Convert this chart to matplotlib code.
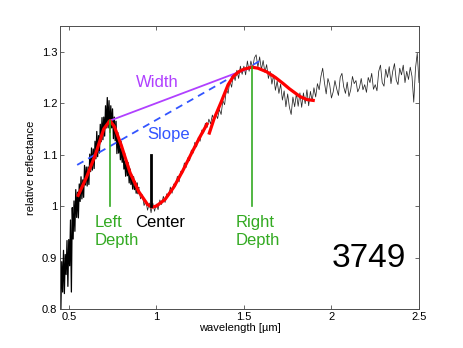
import numpy as np
import matplotlib
matplotlib.use("Agg")
import matplotlib.pyplot as plt
from matplotlib.ticker import FormatStrFormatter

plt.rcParams['font.family'] = ['Liberation Sans', 'DejaVu Sans']

# visible spectrum, 0.450 - 0.900 um, step 0.005
vis_wl = np.round(np.linspace(0.45, 0.90, 91), 3)
vis_refl = [
    0.855, 0.800, 0.892, 0.833, 0.914, 0.830, 0.906, 0.867, 0.933, 0.844,
    0.935, 0.884, 0.973, 0.833, 0.997, 0.936, 1.010, 0.951, 1.032, 0.978,
    1.027, 0.977, 1.043, 1.009, 1.057, 1.014, 1.051, 1.017, 1.079, 1.041,
    1.076, 1.039, 1.076, 1.042, 1.101, 1.067, 1.113, 1.070, 1.111, 1.073,
    1.126, 1.092, 1.145, 1.096, 1.137, 1.103, 1.159, 1.125, 1.172, 1.129,
    1.173, 1.136, 1.195, 1.152, 1.211, 1.152, 1.205, 1.143, 1.195, 1.152,
    1.189, 1.131, 1.173, 1.127, 1.165, 1.102, 1.143, 1.103, 1.128, 1.090,
    1.113, 1.085, 1.107, 1.072, 1.088, 1.058, 1.089, 1.059, 1.077, 1.045,
    1.072, 1.042, 1.060, 1.033, 1.057, 1.032, 1.048, 1.025, 1.045, 1.024,
    1.036,
]

# near-infrared spectrum, 0.80 - 2.50 um, step 0.01
nir_wl = np.round(np.linspace(0.80, 2.50, 171), 2)
nir_refl = [
    1.126, 1.098, 1.103, 1.083, 1.085, 1.058, 1.061, 1.039, 1.046, 1.027,
    1.032, 1.014, 1.022, 1.001, 1.010, 0.992, 1.006, 0.987, 1.006, 0.990,
    1.004, 0.993, 1.012, 1.003, 1.019, 1.007, 1.024, 1.019, 1.037, 1.025,
    1.043, 1.038, 1.058, 1.047, 1.068, 1.063, 1.084, 1.075, 1.094, 1.088,
    1.109, 1.103, 1.124, 1.115, 1.134, 1.126, 1.148, 1.142, 1.161, 1.153,
    1.169, 1.160, 1.177, 1.167, 1.180, 1.170, 1.188, 1.178, 1.205, 1.197,
    1.227, 1.219, 1.243, 1.231, 1.257, 1.244, 1.264, 1.248, 1.272, 1.256,
    1.272, 1.255, 1.282, 1.262, 1.282, 1.268, 1.288, 1.294, 1.270, 1.290,
    1.265, 1.283, 1.260, 1.275, 1.248, 1.262, 1.237, 1.255, 1.225, 1.243,
    1.219, 1.237, 1.206, 1.224, 1.193, 1.218, 1.192, 1.178, 1.212, 1.193,
    1.219, 1.194, 1.220, 1.192, 1.220, 1.199, 1.226, 1.195, 1.223, 1.204,
    1.230, 1.212, 1.238, 1.226, 1.252, 1.268, 1.240, 1.218, 1.248, 1.236,
    1.210, 1.222, 1.244, 1.228, 1.215, 1.250, 1.258, 1.232, 1.219, 1.241,
    1.213, 1.226, 1.252, 1.238, 1.244, 1.222, 1.230, 1.248, 1.226, 1.236,
    1.221, 1.250, 1.240, 1.258, 1.227, 1.236, 1.224, 1.262, 1.274, 1.240,
    1.233, 1.266, 1.250, 1.271, 1.238, 1.262, 1.277, 1.245, 1.236, 1.268,
    1.255, 1.274, 1.240, 1.262, 1.246, 1.270, 1.252, 1.202, 1.268, 1.297,
    1.240,
]

# polynomial fits (red)
fit1_wl = [0.55, 0.60, 0.65, 0.70, 0.735, 0.76, 0.80, 0.85, 0.90, 0.95,
           0.975, 1.00, 1.05, 1.10, 1.15, 1.20, 1.25, 1.294]
fit1_refl = [1.018, 1.055, 1.098, 1.150, 1.166, 1.155, 1.118, 1.065, 1.028,
             1.003, 0.998, 1.000, 1.013, 1.037, 1.068, 1.102, 1.135, 1.162]
fit2_wl = [1.30, 1.33, 1.37, 1.41, 1.44, 1.47, 1.50, 1.545, 1.58, 1.63,
           1.68, 1.725, 1.76, 1.82, 1.86, 1.905]
fit2_refl = [1.139, 1.170, 1.202, 1.236, 1.252, 1.261, 1.266, 1.270, 1.268,
             1.261, 1.250, 1.238, 1.228, 1.213, 1.207, 1.205]

# band parameters
left_max = (0.735, 1.166)
right_max = (1.545, 1.270)
center = (0.972, 1.0, 1.1)
slope_wl = [0.548, 1.601]
slope_refl = [1.080, 1.284]
asteroid = '3749'

green = '#33aa22'
purple = '#b040ff'
blue = '#3355ff'

fig = plt.figure(figsize=(4.63, 3.48), dpi=100)
ax = fig.add_axes([60 / 463, 1 - 309 / 348, 359 / 463, 283 / 348])

ax.plot(vis_wl, vis_refl, color='k', lw=0.9)
ax.plot(nir_wl, nir_refl, color='0.15', lw=0.55)

ax.plot(slope_wl, slope_refl, color=blue, lw=1.3, ls=(0, (4, 3)))
ax.plot([left_max[0], right_max[0]], [left_max[1], right_max[1]], color=purple, lw=1.3)

ax.plot(fit1_wl, fit1_refl, color='red', lw=2.3, solid_capstyle='butt')
ax.plot(fit2_wl, fit2_refl, color='red', lw=2.3, solid_capstyle='butt')

ax.plot([left_max[0], left_max[0]], [1.0, left_max[1]], color=green, lw=1.2)
ax.plot([right_max[0], right_max[0]], [1.0, right_max[1]], color=green, lw=1.2)
ax.plot([center[0], center[0]], [center[1], center[2]], color='k', lw=2)

ax.text(1.003, 1.240, 'Width', color=purple, fontsize=12, ha='center', va='center')
ax.text(1.071, 1.139, 'Slope', color=blue, fontsize=12, ha='center', va='center')
ax.text(0.645, 0.982, 'Left\nDepth', color=green, fontsize=12, ha='left', va='top',
        linespacing=1.25)
ax.text(0.881, 0.982, 'Center', color='k', fontsize=12, ha='left', va='top')
ax.text(1.454, 0.982, 'Right\nDepth', color=green, fontsize=12, ha='left', va='top',
        linespacing=1.25)
ax.text(2.0, 0.899, asteroid, color='k', fontsize=24, ha='left', va='center')

ax.set_xlim(0.45, 2.5)
ax.set_ylim(0.8, 1.35)
ax.set_xticks([0.5, 1, 1.5, 2, 2.5])
ax.set_yticks([0.8, 0.9, 1.0, 1.1, 1.2, 1.3])
ax.xaxis.set_major_formatter(FormatStrFormatter('%g'))
ax.yaxis.set_major_formatter(FormatStrFormatter('%g'))
ax.tick_params(direction='in', length=3, width=0.6, labelsize=8, color='0.3',
               top=True, right=True, pad=2)
for s in ax.spines.values():
    s.set_color('0.3')
    s.set_linewidth(0.7)

ax.set_xlabel('wavelength [µm]', fontsize=8, labelpad=1)
ax.set_ylabel('relative reflectance', fontsize=8, labelpad=4)

fig.savefig('out.png', dpi=100)
